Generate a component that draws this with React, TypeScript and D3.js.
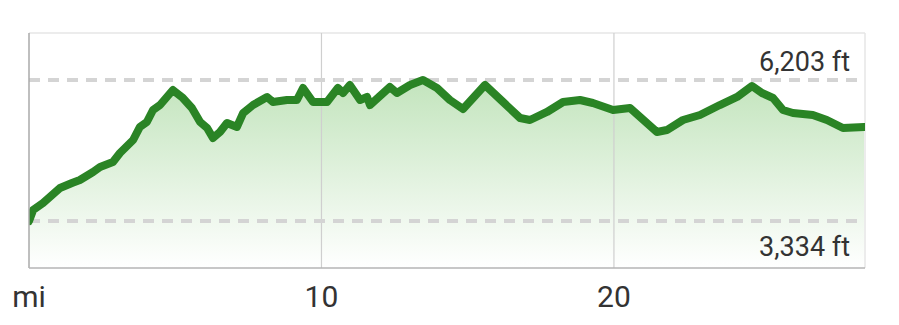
import React from "react";
import * as d3 from "d3";

// distance (mi)
const distances = [
  0.0, 0.14, 0.48, 1.06, 1.47, 1.74, 2.19, 2.43, 2.87, 3.11, 3.56, 3.79, 4.03, 4.24, 4.48, 4.92,
  5.26, 5.57, 5.85, 6.09, 6.29, 6.53, 6.77, 7.11, 7.32, 7.66, 8.14, 8.34, 8.82, 9.16, 9.37, 9.71,
  10.19, 10.56, 10.74, 10.97, 11.32, 11.56, 11.66, 12.34, 12.58, 13.03, 13.47, 13.95, 14.39, 14.84,
  15.59, 16.21, 16.79, 17.13, 17.71, 18.26, 18.84, 19.28, 19.97, 20.55, 21.47, 21.81, 22.36, 22.94,
  23.62, 24.21, 24.72, 25.06, 25.44, 25.78, 26.12, 26.8, 27.28, 27.83, 28.55,
];
// elevation (ft)
const elevations = [
  3334, 3557, 3700, 4005, 4107, 4168, 4331, 4433, 4534, 4717, 4982, 5247, 5348, 5592, 5694, 5999,
  5837, 5633, 5348, 5226, 5023, 5145, 5328, 5247, 5531, 5694, 5857, 5755, 5796, 5796, 6040, 5755,
  5755, 6040, 5938, 6101, 5796, 5857, 5694, 6061, 5938, 6101, 6203, 6040, 5796, 5613,
  6101, 5755, 5430, 5389, 5552, 5755, 5796, 5735, 5592, 5633, 5145, 5185, 5389, 5491,
  5694, 5857, 6080, 5938, 5837, 5592, 5531, 5491, 5389, 5226, 5247,
];
const xTickValues = [0, 10, 20];
const xTickLabels = ["mi", "10", "20"];
const refValues = [6203, 3334];
const refLabels = ["6,203 ft", "3,334 ft"];

const W = 899;
const H = 325;
const L = 29, R = 865, T = 33, B = 268;

export default function App() {
  const x = d3.scaleLinear().domain([0, 28.55]).range([L, 864]);
  const y = d3.scaleLinear().domain([2378, 7159]).range([B, T]);
  const data = distances.map((d, i) => ({ d, e: elevations[i] }));
  const line = d3.line<any>().x((p) => x(p.d)).y((p) => y(p.e));
  const area = d3.area<any>().x((p) => x(p.d)).y0(B).y1((p) => y(p.e));
  const font = "Roboto, 'Noto Sans', sans-serif";
  return (
    <svg width={W} height={H} style={{ position: "absolute", left: 0, top: 0, background: "#fff" }}>
      <defs>
        <linearGradient id="fillg" gradientUnits="userSpaceOnUse" x1="0" y1={T + 45} x2="0" y2={B}>
          <stop offset="0" stopColor="#c2e4bc" />
          <stop offset="1" stopColor="#ffffff" />
        </linearGradient>
        <clipPath id="clip">
          <rect x={L} y={T} width={R - L} height={B - T} />
        </clipPath>
      </defs>
      {/* frame top/right */}
      <line x1={L} x2={R} y1={T} y2={T} stroke="#e6e6e6" strokeWidth={1.5} />
      <line x1={R} x2={R} y1={T} y2={B} stroke="#e6e6e6" strokeWidth={1.5} />
      <g clipPath="url(#clip)">
        <path d={area(data) || ""} fill="url(#fillg)" />
      </g>
      {xTickValues.slice(1).map((v) => (
        <line key={v} x1={x(v)} x2={x(v)} y1={T} y2={B} stroke="#cfcfcf" strokeWidth={1.2} />
      ))}
      {refValues.map((v) => (
        <line key={v} x1={L} x2={858} y1={y(v)} y2={y(v)} stroke="#d4d4d4" strokeWidth={4} strokeDasharray="11 8" />
      ))}
      <g clipPath="url(#clip)">
        <path d={line(data) || ""} fill="none" stroke="#2a8425" strokeWidth={8} strokeLinejoin="round" strokeLinecap="round" />
      </g>
      {/* axes */}
      <line x1={L} x2={L} y1={T} y2={B} stroke="#aaaaaa" strokeWidth={1.5} />
      <line x1={L} x2={R} y1={B} y2={B} stroke="#b5b5b5" strokeWidth={1.5} />
      {refValues.map((v, i) => (
        <text key={v} x={850} y={i === 0 ? 71 : 256} textAnchor="end" fontFamily={font} fontSize={27} fill="#333">
          {refLabels[i]}
        </text>
      ))}
      {xTickValues.map((v, i) => (
        <text key={v} x={x(v)} y={307} textAnchor="middle" fontFamily={font} fontSize={30} fill="#333">
          {xTickLabels[i]}
        </text>
      ))}
    </svg>
  );
}
